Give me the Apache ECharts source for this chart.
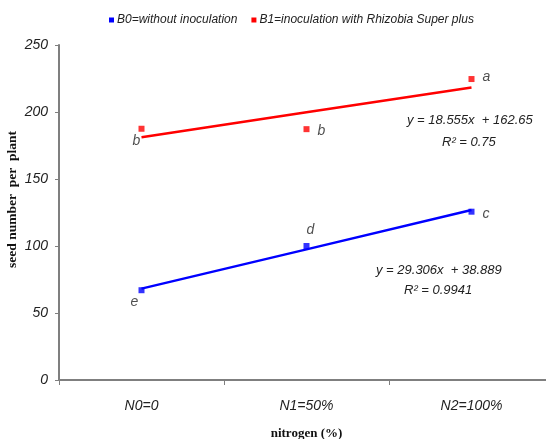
<!DOCTYPE html>
<html>
<head>
<meta charset="utf-8">
<script src="https://cdn.jsdelivr.net/npm/echarts@6/dist/echarts.min.js"></script>
<style>
  html, body { margin: 0; padding: 0; background: #fff; }
  #chart-container { width: 546px; height: 439px; }
</style>
</head>
<body>
<div id="chart-container"></div>
<script>
var categories = ["N0=0", "N1=50%", "N2=100%"];
var b0Values = [67, 100, 125.6];
var b1Values = [187.5, 187.2, 224.6];
var b0Trend = [68.2, 97.5, 126.8];
var b1Trend = [181.2, 199.8, 218.3];
var b0Letters = ["e", "d", "c"];
var b1Letters = ["b", "b", "a"];
var yTicks = [0, 50, 100, 150, 200, 250];

var dom = document.getElementById("chart-container");
var myChart = echarts.init(dom, null, { renderer: "canvas" });

var labelFont = {
  fontFamily: "Liberation Sans",
  fontStyle: "italic",
  fontSize: 14,
  color: "#222",
};

// where each letter sits next to its point
var b0LabelPos = [
  { position: "bottom", distance: 2, offset: [-7, 0] },
  { position: "top", distance: 6, offset: [4, 0] },
  { position: "right", distance: 8, offset: [0, 2] },
];
var b1LabelPos = [
  { position: "bottom", distance: 2, offset: [-5, 0] },
  { position: "right", distance: 8, offset: [0, 2] },
  { position: "right", distance: 8, offset: [0, -2] },
];

function pointData(values, letters, pos) {
  return values.map(function (v, i) {
    return {
      value: v,
      label: Object.assign({ show: true, formatter: letters[i] }, labelFont, pos[i]),
    };
  });
}

var option = {
  animation: false,
  backgroundColor: "#fff",
  legend: {
    top: 9,
    left: 104,
    icon: "rect",
    itemWidth: 5,
    itemHeight: 5,
    itemGap: 14,
    textStyle: {
      fontFamily: "Liberation Sans",
      fontStyle: "italic",
      fontSize: 12,
      color: "#222",
      padding: [0, 0, 0, -2],
    },
    data: ["B0=without inoculation", "B1=inoculation with Rhizobia Super plus"],
  },
  grid: {
    left: 59,
    right: -8,
    top: 45,
    bottom: 59,
    containLabel: false,
    outerBoundsMode: "none",
  },
  xAxis: {
    type: "category",
    data: categories,
    boundaryGap: true,
    name: "nitrogen (%)",
    nameLocation: "middle",
    nameGap: 47,
    nameMoveOverlap: false,
    nameTextStyle: {
      fontFamily: "Liberation Serif",
      fontWeight: "bold",
      fontSize: 13,
      color: "#111",
    },
    axisLine: { lineStyle: { color: "#7f7f7f", width: 2 } },
    axisTick: { show: true, length: 5, lineStyle: { color: "#7f7f7f" } },
    axisLabel: Object.assign({ margin: 19 }, labelFont),
    splitLine: { show: false },
  },
  yAxis: {
    type: "value",
    min: 0,
    max: 250,
    interval: 50,
    name: "seed number  per  plant",
    nameLocation: "middle",
    nameGap: 39,
    nameMoveOverlap: false,
    nameTextStyle: {
      fontFamily: "Liberation Serif",
      fontWeight: "bold",
      fontSize: 13.5,
      color: "#111",
      padding: [0, 0, 0, 26],
    },
    axisLine: { show: true, lineStyle: { color: "#7f7f7f", width: 2 } },
    axisTick: { show: true, length: 4, lineStyle: { color: "#7f7f7f" } },
    axisLabel: Object.assign({ margin: 11 }, labelFont, {
      formatter: function (v) {
        return yTicks.indexOf(v) >= 0 ? String(v) : "";
      },
    }),
    splitLine: { show: false },
  },
  series: [
    {
      name: "B0=without inoculation",
      type: "line",
      data: b0Trend,
      showSymbol: false,
      symbol: "none",
      lineStyle: { color: "#0000ff", width: 2.5 },
      itemStyle: { color: "#0000ff" },
      z: 2,
    },
    {
      name: "B1=inoculation with Rhizobia Super plus",
      type: "line",
      data: b1Trend,
      showSymbol: false,
      symbol: "none",
      lineStyle: { color: "#ff0000", width: 2.5 },
      itemStyle: { color: "#ff0000" },
      z: 2,
    },
    {
      name: "B0=without inoculation",
      type: "scatter",
      symbol: "rect",
      symbolSize: 6,
      itemStyle: { color: "#0000ff" },
      data: pointData(b0Values, b0Letters, b0LabelPos),
      z: 3,
    },
    {
      name: "B1=inoculation with Rhizobia Super plus",
      type: "scatter",
      symbol: "rect",
      symbolSize: 6,
      itemStyle: { color: "#ff0000" },
      data: pointData(b1Values, b1Letters, b1LabelPos),
      z: 3,
    },
  ],
  graphic: [
    {
      type: "text",
      left: 407,
      top: 114,
      style: { text: "y = 18.555x  + 162.65", font: "italic 13px Liberation Sans", fill: "#222" },
    },
    {
      type: "text",
      left: 442,
      top: 136,
      style: { text: "R² = 0.75", font: "italic 13px Liberation Sans", fill: "#222" },
    },
    {
      type: "text",
      left: 376,
      top: 264,
      style: { text: "y = 29.306x  + 38.889", font: "italic 13px Liberation Sans", fill: "#222" },
    },
    {
      type: "text",
      left: 404,
      top: 284,
      style: { text: "R² = 0.9941", font: "italic 13px Liberation Sans", fill: "#222" },
    },
  ],
};

if (option && typeof option === "object") {
  myChart.setOption(option);
}
window.addEventListener("resize", myChart.resize);
</script>
</body>
</html>
